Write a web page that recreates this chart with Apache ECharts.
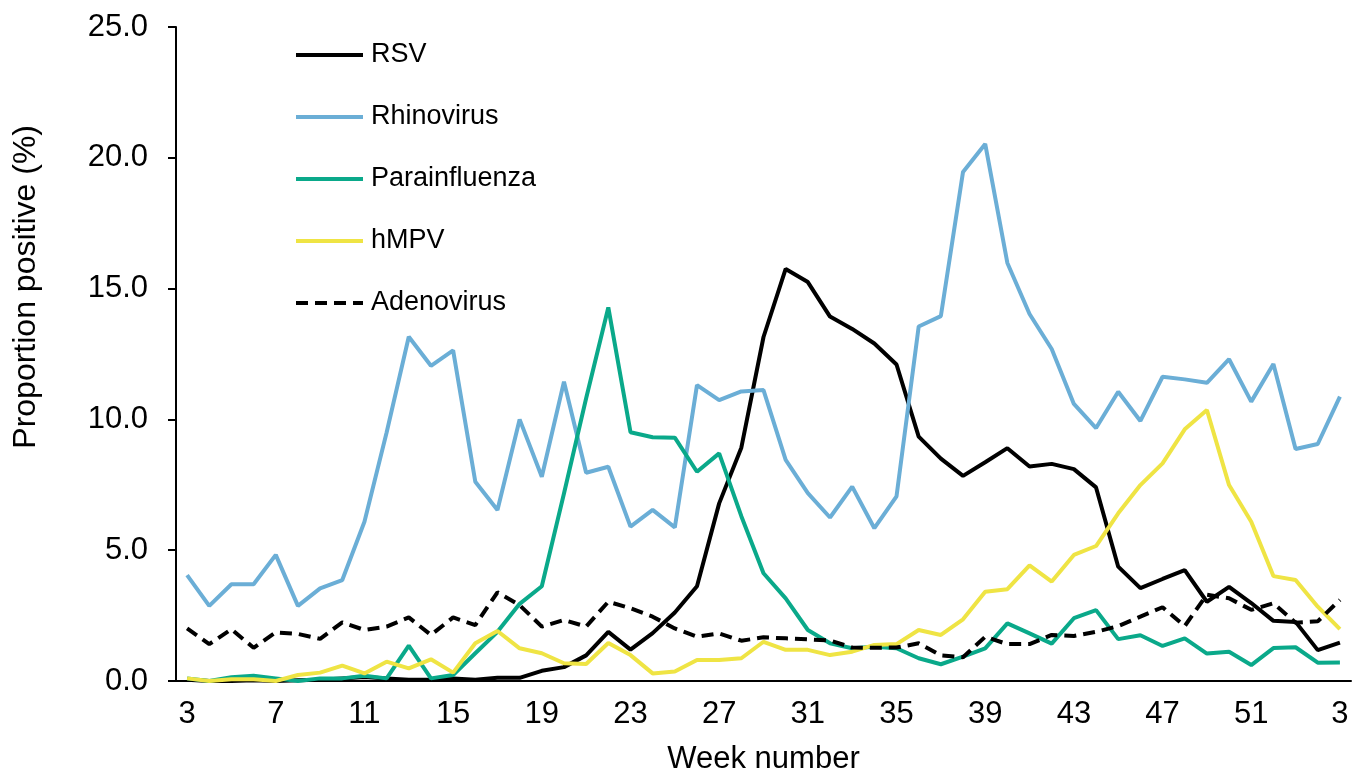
<!DOCTYPE html>
<html>
<head>
<meta charset="utf-8">
<script src="https://cdn.jsdelivr.net/npm/echarts@6/dist/echarts.min.js"></script>
<style>
  html, body { margin: 0; padding: 0; background: #fff; }
  #chart { width: 1354px; height: 774px; }
</style>
</head>
<body>
<div id="chart"></div>
<script>
  // week numbers, running over into the next year
  const weeks = [3, 4, 5, 6, 7, 8, 9, 10, 11, 12, 13, 14, 15, 16, 17, 18, 19, 20, 21, 22, 23, 24, 25, 26,
    27, 28, 29, 30, 31, 32, 33, 34, 35, 36, 37, 38, 39, 40, 41, 42, 43, 44, 45, 46, 47, 48, 49, 50, 51, 52,
    1, 2, 3];

  const rsv = [0.05, 0.0, 0.0, 0.03, 0.0, 0.03, 0.05, 0.1, 0.15, 0.1, 0.05, 0.05, 0.1, 0.05,
    0.12, 0.12, 0.39, 0.53, 0.98, 1.88,
    1.2, 1.83, 2.62, 3.62, 6.79, 8.92, 13.15, 15.75, 15.25, 13.93,
    13.46, 12.9, 12.1, 9.34, 8.5, 7.84, 8.36, 8.9, 8.2, 8.3,
    8.1, 7.4, 4.37, 3.55, 3.9, 4.24, 3.03, 3.6, 2.98, 2.3,
    2.26, 1.18, 1.47];

  const rhinovirus = [4.05, 2.87, 3.7, 3.7, 4.82, 2.87, 3.54, 3.86, 6.09, 9.5,
    13.16, 12.05, 12.64, 7.62, 6.54, 10.0, 7.81, 11.44, 7.96, 8.19,
    5.9, 6.54, 5.87, 11.31, 10.74, 11.07, 11.12, 8.45, 7.18, 6.25,
    7.43, 5.84, 7.06, 13.55, 13.95, 19.46, 20.53, 15.98, 14.03, 12.69,
    10.59, 9.67, 11.06, 9.94, 11.63, 11.53, 11.4, 12.3, 10.68, 12.12,
    8.87, 9.06, 10.87];

  const parainfluenza = [0.1, 0.0, 0.14, 0.2, 0.1, 0.0, 0.1, 0.1, 0.2, 0.1, 1.35, 0.1, 0.23, 1.06, 1.88, 2.95, 3.62,
    7.17, 10.81, 14.28, 9.51, 9.32, 9.3, 8.0, 8.7, 6.3, 4.12, 3.16, 1.95, 1.44,
    1.25, 1.31, 1.25, 0.87, 0.64, 0.93, 1.25, 2.2, 1.82, 1.43,
    2.4, 2.71, 1.6, 1.75, 1.34, 1.63, 1.05, 1.12, 0.61, 1.26, 1.29, 0.7, 0.71];

  const hmpv = [0.1, 0.0, 0.07, 0.07, 0.0, 0.23, 0.32, 0.59, 0.29, 0.74,
    0.48, 0.83, 0.32, 1.44, 1.91, 1.25, 1.06, 0.68, 0.65, 1.45,
    0.99, 0.29, 0.36, 0.8, 0.8, 0.87, 1.5, 1.19, 1.19, 0.99,
    1.12, 1.38, 1.41, 1.95, 1.76, 2.36, 3.41, 3.51, 4.42, 3.8,
    4.82, 5.16, 6.41, 7.49, 8.32, 9.62, 10.36, 7.49, 6.09, 4.01, 3.86, 2.84, 1.98];

  const adenovirus = [2.01, 1.41, 1.98, 1.27, 1.86, 1.8, 1.61, 2.24, 1.95, 2.08,
    2.43, 1.76, 2.43, 2.14, 3.39, 2.9, 2.08, 2.33, 2.08, 3.03,
    2.78, 2.46, 2.01, 1.69, 1.82, 1.54, 1.67, 1.63, 1.59, 1.55,
    1.28, 1.27, 1.28, 1.44, 0.98, 0.91, 1.69, 1.41, 1.41, 1.76,
    1.72, 1.88, 2.1, 2.46, 2.82, 2.1, 3.3, 3.16, 2.72, 2.97, 2.23, 2.28, 3.1];

  const font = 'Liberation Sans, Arial, sans-serif';

  const chart = echarts.init(document.getElementById('chart'), null, { renderer: 'canvas' });

  const line = (name, data, color, type) => ({
    name: name,
    type: 'line',
    data: data,
    symbol: 'none',
    smooth: false,
    lineStyle: { color: color, width: 4, type: type || 'solid', cap: 'butt' },
    itemStyle: { color: color },
    emphasis: { disabled: true }
  });

  const option = {
    animation: false,
    backgroundColor: '#fff',
    grid: { left: 176, right: 3, top: 27, bottom: 93, containLabel: false, outerBoundsMode: 'none' },
    legend: {
      orient: 'vertical',
      left: 289,
      top: 35,
      itemWidth: 67,
      itemHeight: 14,
      itemGap: 32,
      itemStyle: { opacity: 0 },
      lineStyle: { width: 4 },
      textStyle: { fontFamily: font, fontSize: 27, color: '#000', lineHeight: 30, padding: [0, 0, 0, 3] },
      data: ['RSV', 'Rhinovirus', 'Parainfluenza', 'hMPV', 'Adenovirus']
    },
    xAxis: {
      type: 'category',
      data: weeks,
      boundaryGap: true,
      name: 'Week number',
      nameLocation: 'middle',
      nameGap: 63,
      nameTextStyle: { fontFamily: font, fontSize: 31, color: '#000' },
      axisLine: { lineStyle: { color: '#000', width: 2 } },
      axisTick: { interval: 3, length: 9, lineStyle: { color: '#000', width: 2 } },
      axisLabel: { interval: 3, margin: 18, fontFamily: font, fontSize: 31, color: '#000' },
      splitLine: { show: false }
    },
    yAxis: {
      type: 'value',
      min: 0,
      max: 25,
      interval: 5,
      axisLine: { show: true, lineStyle: { color: '#000', width: 2 } },
      axisTick: { show: true, length: 8, lineStyle: { color: '#000', width: 2 } },
      axisLabel: {
        margin: 28,
        fontFamily: font,
        fontSize: 31,
        color: '#000',
        formatter: v => v.toFixed(1)
      },
      splitLine: { show: false }
    },
    graphic: [{
      type: 'text',
      left: 10,
      top: 125,
      rotation: Math.PI / 2,
      style: {
        text: 'Proportion positive (%)',
        fontFamily: font,
        fontSize: 32,
        fill: '#000'
      }
    }],
    series: [
      line('RSV', rsv, '#000000'),
      line('Rhinovirus', rhinovirus, '#6baed6'),
      line('Parainfluenza', parainfluenza, '#0aa98a'),
      line('hMPV', hmpv, '#efe444'),
      line('Adenovirus', adenovirus, '#000000', [12, 7])
    ]
  };

  chart.setOption(option);
</script>
</body>
</html>
